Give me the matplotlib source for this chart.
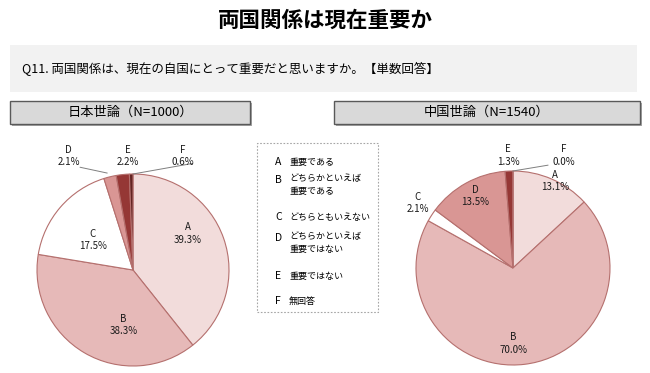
import matplotlib.pyplot as plt
from matplotlib.patches import Rectangle

plt.rcParams['font.family'] = ['Noto Sans CJK JP', 'DejaVu Sans']

W, H = 650, 373

keys = ['A', 'B', 'C', 'D', 'E', 'F']
japan = [39.3, 38.3, 17.5, 2.1, 2.2, 0.6]
china = [13.1, 70.0, 2.1, 13.5, 1.3, 0.0]
colors = ['#f2dcdb', '#e6b9b8', '#ffffff', '#d99694', '#953735', '#632523']
legend_text = ['重要である', 'どちらかといえば\n重要である', 'どちらともいえない',
               'どちらかといえば\n重要ではない', '重要ではない', '無回答']

# label positions in pie-radius units
japan_pos = [(0.57, 0.38), (-0.10, -0.57), (-0.42, 0.31),
             (-0.67, 1.19), (-0.05, 1.19), (0.52, 1.19)]
china_pos = [(0.43, 0.90), (0.0, -0.78), (-0.98, 0.67),
             (-0.39, 0.74), (-0.05, 1.16), (0.52, 1.16)]
# leader lines: (label end, wedge end)
japan_lines = [((-0.55, 1.07), (-0.27, 1.01)), ((0.62, 1.11), (0.0, 1.0))]
china_lines = [((0.36, 1.06), (0.0, 1.0))]

fig = plt.figure(figsize=(W / 100, H / 100), dpi=100)


def px(x, y, w=0, h=0):
    # pixel box (top-left origin) -> figure fraction rect
    return [x / W, 1 - (y + h) / H, w / W, h / H]


def box(x, y, w, h, **kw):
    r = px(x, y, w, h)
    fig.add_artist(Rectangle((r[0], r[1]), r[2], r[3], transform=fig.transFigure, **kw))


fig.text(325 / W, 1 - 20 / H, '両国関係は現在重要か', ha='center', va='center',
         fontsize=15.5, fontweight='bold')

box(10, 45, 627, 47, facecolor='#f2f2f2', edgecolor='none')
fig.text(22 / W, 1 - 69 / H, 'Q11. 両国関係は、現在の自国にとって重要だと思いますか。【単数回答】',
         ha='left', va='center', fontsize=9)

for x0, x1, title in [(10, 250, '日本世論（N=1000）'), (334, 640, '中国世論（N=1540）')]:
    box(x0 + 2, 103, x1 - x0, 23, facecolor='#a6a6a6', edgecolor='none')
    box(x0, 101, x1 - x0, 23, facecolor='#d9d9d9', edgecolor='#595959', linewidth=1.0)
    fig.text((x0 + x1) / 2 / W, 1 - 112.5 / H, title, ha='center', va='center', fontsize=9.5)


def draw_pie(cx, cy, rad, values, pos, lines):
    xl, yl = (-1.45, 1.45), (-1.05, 1.35)
    ax = fig.add_axes(px(cx + xl[0] * rad, cy - yl[1] * rad,
                         (xl[1] - xl[0]) * rad, (yl[1] - yl[0]) * rad))
    ax.pie(values, colors=colors, startangle=90, counterclock=False,
           wedgeprops=dict(edgecolor='#b5706e', linewidth=0.8))
    ax.set_xlim(*xl)
    ax.set_ylim(*yl)
    ax.axis('off')
    for k, v, (x, y) in zip(keys, values, pos):
        ax.text(x, y, f'{k}\n{v:.1f}%', ha='center', va='center', fontsize=7,
                linespacing=1.3, color='#1a1a1a')
    for a, b in lines:
        ax.plot([a[0], b[0]], [a[1], b[1]], color='#7f7f7f', linewidth=0.7)


draw_pie(133, 270, 96, japan, japan_pos, japan_lines)
draw_pie(513, 268, 97, china, china_pos, china_lines)

# legend box
box(257, 143, 121, 169, facecolor='none', edgecolor='#a6a6a6', linewidth=0.8,
    linestyle=(0, (1.5, 1.5)))
rows = [162, 180, 217, 238, 276, 301]
for k, t, y in zip(keys, legend_text, rows):
    fig.text(275 / W, 1 - y / H, k, ha='left', va='center', fontsize=7.5)
    if '\n' in t:
        fig.text(289 / W, 1 - (y - 6) / H, t, ha='left', va='top', fontsize=6.5,
                 linespacing=1.5)
    else:
        fig.text(289 / W, 1 - y / H, t, ha='left', va='center', fontsize=6.5)

fig.savefig('out.png', dpi=100)
